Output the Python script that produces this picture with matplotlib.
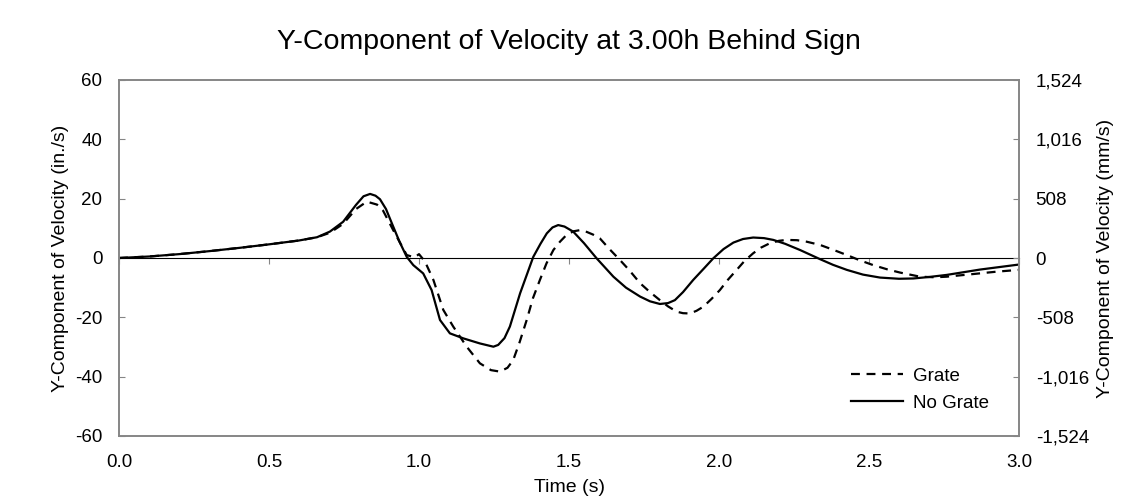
import numpy as np
import matplotlib
matplotlib.use('Agg')
import matplotlib.pyplot as plt
from matplotlib.ticker import FuncFormatter

plt.rcParams['font.family'] = ['Liberation Sans', 'DejaVu Sans']
plt.rcParams['axes.unicode_minus'] = False

# valores (tiempo en s, velocidad en in./s)
t_grate = [0.0, 0.1, 0.2, 0.3, 0.4, 0.5, 0.6, 0.66, 0.703, 0.747, 0.79, 0.826,
           0.86, 0.88, 0.914, 0.959, 0.985, 1.0, 1.02, 1.048, 1.081, 1.114,
           1.159, 1.203, 1.24, 1.27, 1.295, 1.314, 1.335, 1.359, 1.38, 1.403,
           1.425, 1.448, 1.47, 1.492, 1.515, 1.537, 1.559, 1.58, 1.603, 1.635,
           1.67, 1.70, 1.737, 1.77, 1.803, 1.83, 1.859, 1.88, 1.903, 1.925,
           1.948, 1.975, 2.003, 2.03, 2.059, 2.085, 2.114, 2.14, 2.17, 2.2,
           2.226, 2.26, 2.292, 2.337, 2.38, 2.426, 2.47, 2.514, 2.56, 2.603,
           2.67, 2.72, 2.759, 2.848, 2.926, 3.0]
v_grate = [0.0, 0.5, 1.3, 2.3, 3.4, 4.6, 5.9, 7.0, 8.5, 11.5, 16.5, 19.0,
           18.0, 16.0, 9.4, 1.0, 0.2, 1.3, -1.2, -7.4, -17.5, -23.1,
           -29.9, -35.5, -37.8, -38.3, -37.0, -34.4, -28.5, -20.9, -13.5, -7.4,
           -1.8, 2.7, 5.5, 7.8, 9.0, 9.4, 8.8, 7.9, 6.6, 3.0,
           -0.7, -4.0, -8.5, -11.5, -14.2, -16.3, -18.1, -18.6, -18.7, -17.8,
           -16.4, -13.8, -10.8, -7.3, -4.0, -1.0, 1.6, 3.5, 5.0, 5.8,
           6.1, 6.0, 5.5, 4.4, 2.8, 1.0, -0.8, -2.4, -3.8, -4.9,
           -6.3, -6.5, -6.3, -5.4, -4.6, -4.0]

t_nograte = [0.0, 0.1, 0.2, 0.3, 0.4, 0.5, 0.6, 0.66, 0.703, 0.747, 0.79, 0.815,
             0.837, 0.855, 0.87, 0.89, 0.914, 0.935, 0.959, 0.981, 1.014, 1.042,
             1.07, 1.103, 1.148, 1.203, 1.248, 1.264, 1.285, 1.303, 1.337, 1.381,
             1.405, 1.426, 1.445, 1.464, 1.485, 1.514, 1.55, 1.592, 1.648, 1.69,
             1.737, 1.77, 1.803, 1.83, 1.853, 1.88, 1.914, 1.95, 1.981, 2.015,
             2.048, 2.08, 2.114, 2.15, 2.181, 2.22, 2.27, 2.337, 2.38, 2.426,
             2.48, 2.537, 2.6, 2.648, 2.7, 2.759, 2.87, 3.0]
v_nograte = [0.0, 0.5, 1.3, 2.3, 3.4, 4.6, 5.9, 7.0, 8.9, 12.2, 17.9, 20.8,
             21.6, 21.0, 19.8, 16.5, 10.6, 5.5, 0.4, -2.4, -5.2, -10.8,
             -20.9, -25.4, -27.1, -28.8, -29.9, -29.3, -27.0, -23.1, -11.9, 0.4,
             4.8, 8.3, 10.3, 11.1, 10.6, 8.9, 5.0, -0.1, -6.3, -10.0,
             -13.0, -14.6, -15.5, -15.2, -14.2, -11.5, -7.4, -3.5, -0.1, 3.0,
             5.2, 6.4, 6.9, 6.7, 6.1, 4.8, 2.7, -0.4, -2.3, -4.0,
             -5.6, -6.6, -7.0, -6.9, -6.4, -5.7, -3.9, -2.2]

fig = plt.figure(figsize=(11.38, 5.04), dpi=100)
ax = fig.add_axes([119/1138, 1-436/504, 900/1138, 356/504])

gris = '#868686'
ax.plot(t_grate, v_grate, color='black', lw=1.6, dashes=(4, 3), label='Grate')
ax.plot(t_nograte, v_nograte, color='black', lw=1.6, label='No Grate')

ax.set_xlim(0, 3)
ax.set_ylim(-60, 60)
ax.set_xticks(np.arange(0, 3.01, 0.5))
ax.set_yticks(np.arange(-60, 61, 20))
ax.xaxis.set_major_formatter(FuncFormatter(lambda x, p: '%.1f' % x))
ax.tick_params(axis='x', length=0, labelsize=13.5, pad=13)
ax.tick_params(axis='y', direction='in', length=4, color=gris, labelsize=13.5, pad=12)
for s in ax.spines.values():
    s.set_color(gris)
    s.set_linewidth(1.2)

# eje horizontal en cero con sus marcas
eje0 = ax.secondary_xaxis(0.5)
eje0.set_xticks(np.arange(0, 3.01, 0.5))
eje0.set_xticklabels([])
eje0.tick_params(axis='x', direction='in', length=4, color=gris)
eje0.spines['bottom'].set_color(gris)
eje0.spines['bottom'].set_linewidth(1.2)

ax2 = ax.twinx()
ax2.set_ylim(-1524, 1524)
ax2.set_yticks(np.arange(-1524, 1525, 508))
ax2.yaxis.set_major_formatter(FuncFormatter(lambda y, p: '{:,.0f}'.format(y)))
ax2.tick_params(axis='y', direction='in', length=4, color=gris, labelsize=13.5, pad=12)
for s in ax2.spines.values():
    s.set_color(gris)
    s.set_linewidth(1.2)

ax.set_xlabel('Time (s)', fontsize=14, labelpad=6)
ax.set_ylabel('Y-Component of Velocity (in./s)', fontsize=14, labelpad=4)
ax2.set_ylabel('Y-Component of Velocity (mm/s)', fontsize=14, labelpad=6)
fig.text(0.5, 1-42/504, 'Y-Component of Velocity at 3.00h Behind Sign',
         ha='center', va='center', fontsize=20.5)

ax.legend(loc='lower right', bbox_to_anchor=(0.985, 0.02), frameon=False,
          fontsize=13.5, handlelength=2.8, handletextpad=0.5, labelspacing=0.55)

fig.savefig('out.png', dpi=100)
